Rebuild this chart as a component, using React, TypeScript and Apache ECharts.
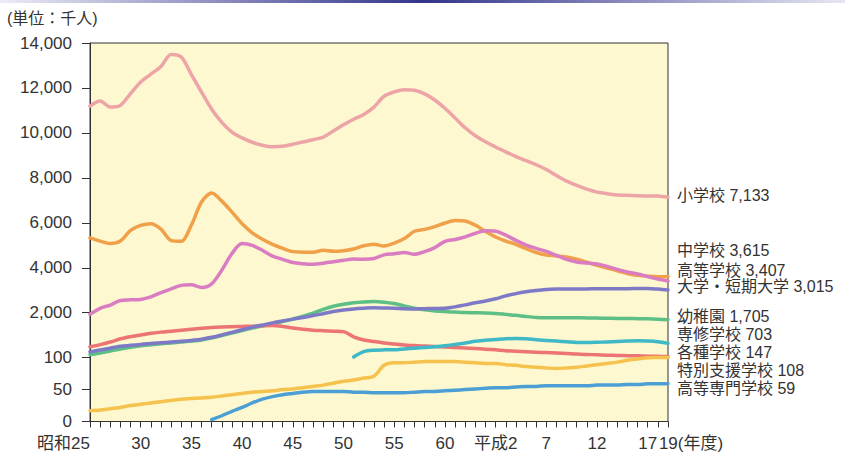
import React, { useEffect, useRef } from 'react';
import * as echarts from 'echarts';

// 昭和25 (1950) – 平成19 (2007)
const years: string[] = Array.from({ length: 58 }, (_, i) => String(1950 + i));

const xLabels: Record<string, string> = {
  '1950': '昭和25', '1955': '30', '1960': '35', '1965': '40', '1970': '45',
  '1975': '50', '1980': '55', '1985': '60', '1990': '平成2', '1995': '7',
  '2000': '12', '2005': '17', '2007': '19',
};

const yTickValues = [0, 50, 100, 2000, 4000, 6000, 8000, 10000, 12000, 14000];

// 単位：千人
const elementary = [11191, 11423, 11148, 11225, 11751, 12267, 12616, 12956, 13492, 13375,
  12591, 11811, 11057, 10471, 10030, 9776, 9584, 9452, 9383, 9403,
  9493, 9596, 9696, 9816, 10088, 10365, 10609, 10819, 11146, 11630,
  11827, 11925, 11902, 11739, 11465, 11095, 10665, 10227, 9873, 9607,
  9374, 9157, 8947, 8769, 8583, 8370, 8106, 7855, 7664, 7500,
  7366, 7297, 7239, 7227, 7201, 7197, 7188, 7133];

const juniorHigh = [5333, 5188, 5076, 5187, 5664, 5884, 5963, 5719, 5210, 5180,
  5900, 6925, 7328, 6964, 6476, 5957, 5556, 5271, 5044, 4865,
  4717, 4694, 4688, 4779, 4735, 4762, 4833, 4978, 5048, 4966,
  5094, 5300, 5624, 5706, 5828, 5990, 6106, 6082, 5896, 5619,
  5369, 5188, 5037, 4851, 4681, 4571, 4528, 4481, 4381, 4244,
  4104, 3992, 3863, 3748, 3664, 3627, 3602, 3615];

const highSchool = [1935, 2193, 2343, 2545, 2574, 2592, 2703, 2898, 3057, 3216,
  3239, 3119, 3282, 3896, 4634, 5074, 4997, 4777, 4521, 4376,
  4232, 4178, 4153, 4201, 4271, 4333, 4387, 4380, 4415, 4574,
  4622, 4682, 4601, 4717, 4896, 5178, 5259, 5376, 5534, 5644,
  5623, 5455, 5218, 5010, 4862, 4725, 4547, 4371, 4258, 4212,
  4165, 4062, 3929, 3810, 3720, 3605, 3495, 3407];

const university = [350, 420, 500, 580, 620, 660, 700, 730, 760, 790,
  830, 880, 960, 1060, 1170, 1280, 1390, 1480, 1570, 1650,
  1730, 1800, 1880, 1960, 2050, 2120, 2170, 2200, 2220, 2210,
  2200, 2180, 2170, 2180, 2190, 2200, 2260, 2350, 2440, 2520,
  2620, 2750, 2850, 2930, 2990, 3030, 3050, 3060, 3060, 3060,
  3070, 3070, 3070, 3070, 3075, 3080, 3050, 3015];

const kindergarten = [230, 300, 380, 470, 540, 600, 650, 690, 720, 760,
  800, 850, 930, 1030, 1140, 1250, 1350, 1440, 1530, 1630,
  1730, 1850, 1980, 2150, 2290, 2380, 2440, 2480, 2497, 2470,
  2410, 2300, 2200, 2130, 2080, 2050, 2030, 2010, 2000, 1990,
  1970, 1930, 1890, 1840, 1800, 1790, 1790, 1790, 1785, 1780,
  1775, 1765, 1760, 1755, 1750, 1740, 1725, 1705];

const specialTraining = [null, null, null, null, null, null, null, null, null, null,
  null, null, null, null, null, null, null, null, null, null,
  null, null, null, null, null, null, 131, 357, 417, 430,
  432, 470, 500, 530, 560, 600, 660, 720, 790, 840,
  870, 900, 910, 900, 860, 830, 800, 770, 740, 740,
  750, 765, 785, 800, 810, 800, 770, 703];

const miscSchool = [560, 650, 760, 900, 990, 1060, 1130, 1180, 1220, 1260,
  1300, 1340, 1380, 1400, 1410, 1420, 1430, 1450, 1460, 1420,
  1350, 1300, 1260, 1240, 1220, 1200, 980, 850, 780, 720,
  680, 640, 610, 590, 570, 556, 530, 510, 488, 460,
  430, 395, 370, 350, 330, 315, 295, 275, 250, 235,
  222, 205, 195, 185, 176, 165, 155, 147];

const specialSupport = [17, 18, 20, 22, 25, 27, 29, 31, 33, 35,
  36, 37, 38, 40, 42, 44, 46, 47, 48, 50,
  51, 53, 55, 57, 60, 63, 65, 68, 71, 88,
  92, 92, 93, 94, 94, 94, 94, 93, 92, 91,
  91, 89, 88, 86, 85, 84, 83, 84, 85, 87,
  89, 91, 93, 96, 98, 101, 104, 108];

const techCollege = [null, null, null, null, null, null, null, null, null, null,
  null, null, 3, 9, 16, 22, 29, 35, 39, 42,
  44, 46, 47, 47, 47, 47, 46, 46, 45, 45,
  45, 45, 46, 47, 47, 48, 49, 50, 51, 52,
  53, 53, 54, 55, 55, 56, 56, 56, 56, 56,
  57, 57, 57, 58, 58, 59, 59, 59];

// broken value scale: 0–100, 100–2,000, then 2,000 per step
const toAxis = (v: number | null): number | null => {
  if (v === null) return null;
  if (v <= 100) return (v / 100) * 1.42;
  if (v <= 2000) return 1.42 + (v - 100) / 1900;
  return 2.42 + (v - 2000) / 2000;
};
const yTickPos = yTickValues.map((v) => toAxis(v) as number);

const FONT = "'Liberation Sans', Arial, 'Noto Sans CJK JP', sans-serif";
const TEXT = '#333';

const seriesDefs = [
  { name: '小学校', data: elementary, color: '#eda4a6', dy: -2 },
  { name: '中学校', data: juniorHigh, color: '#f0a048', dy: -25.5 },
  { name: '高等学校', data: highSchool, color: '#d97cc2', dy: -10.5 },
  { name: '幼稚園', data: kindergarten, color: '#5ebf86', dy: -3 },
  { name: '各種学校', data: miscSchool, color: '#ec7474', dy: -4.5 },
  { name: '大学・短期大学', data: university, color: '#7e79c6', dy: -3 },
  { name: '専修学校', data: specialTraining, color: '#3fb8c8', dy: -8.5 },
  { name: '特別支援学校', data: specialSupport, color: '#f6c24e', dy: 12.8 },
  { name: '高等専門学校', data: techCollege, color: '#4c9fd4', dy: 4.8 },
];

export default function App() {
  const ref = useRef<HTMLDivElement>(null);
  useEffect(() => {
    const chart = echarts.init(ref.current!, null, { renderer: 'svg' });
    const option: any = {
      animation: false,
      backgroundColor: '#ffffff',
      textStyle: { fontFamily: FONT },
      grid: {
        left: 90, right: 177, top: 43, bottom: 35.5,
        show: true, backgroundColor: '#fdf8cf', borderColor: '#333', borderWidth: 1,
        outerBoundsMode: 'none',
      },
      xAxis: {
        type: 'category',
        data: years,
        boundaryGap: false,
        axisLine: { lineStyle: { color: '#333', width: 1 } },
        axisTick: { show: true, interval: 0, length: 6, lineStyle: { color: '#333' } },
        axisLabel: {
          interval: (_i: number, v: string) => v in xLabels,
          margin: 13,
          color: TEXT,
          fontSize: 17,
          fontFamily: FONT,
          formatter: (v: string) => {
            if (v === '1950') return '{a|' + xLabels[v] + '}';
            if (v === '2007') return '{b|' + xLabels[v] + '}{c|(年度)}';
            return xLabels[v] || '';
          },
          rich: {
            a: { padding: [0, 53, 0, 0], fontSize: 17, color: TEXT, fontFamily: FONT },
            b: { padding: [0, 0, 0, 46], fontSize: 17, color: TEXT, fontFamily: FONT },
            c: { fontSize: 17, color: TEXT, fontFamily: FONT },
          },
        },
        splitLine: { show: false },
      },
      yAxis: {
        type: 'value',
        min: 0,
        max: toAxis(14000),
        axisLine: { show: true, lineStyle: { color: '#333', width: 1 } },
        axisTick: { show: true, length: 8, customValues: yTickPos, lineStyle: { color: '#333' } },
        axisLabel: {
          customValues: yTickPos,
          margin: 18,
          color: TEXT,
          fontSize: 17,
          fontFamily: FONT,
          formatter: (val: number) => {
            const i = yTickPos.findIndex((p) => Math.abs(p - val) < 1e-6);
            return i >= 0 ? yTickValues[i].toLocaleString('en-US') : '';
          },
        },
        splitLine: { show: false },
      },
      graphic: [
        {
          type: 'rect',
          left: 0,
          top: 0,
          shape: { width: 845, height: 3 },
          style: {
            fill: new echarts.graphic.LinearGradient(0, 0, 1, 0, [
              { offset: 0, color: '#ececf6' },
              { offset: 0.5, color: '#34348c' },
              { offset: 1, color: '#e6e6f2' },
            ]),
          },
          silent: true,
        },
        {
          type: 'text',
          left: 7,
          top: 10,
          style: { text: '(単位：千人)', font: `16px ${FONT}`, fill: TEXT },
          silent: true,
        },
      ],
      series: seriesDefs.map((s) => {
        const last = s.data[s.data.length - 1] as number;
        return {
          type: 'line',
          name: s.name,
          data: s.data.map((v) => toAxis(v as number | null)),
          showSymbol: false,
          smooth: 0.3,
          connectNulls: false,
          lineStyle: { color: s.color, width: 3.5, cap: 'round', join: 'round' },
          itemStyle: { color: s.color },
          emphasis: { disabled: true },
          endLabel: {
            show: true,
            formatter: () => `${s.name} ${last.toLocaleString('en-US')}`,
            distance: 9,
            offset: [0, s.dy],
            color: TEXT,
            fontSize: 16,
            lineHeight: 16,
            fontFamily: FONT,
          },
        };
      }),
    };
    chart.setOption(option);
    return () => chart.dispose();
  }, []);
  return (
    <div
      ref={ref}
      style={{ position: 'fixed', left: 0, top: 0, width: 845, height: 457, background: '#fff' }}
    />
  );
}
